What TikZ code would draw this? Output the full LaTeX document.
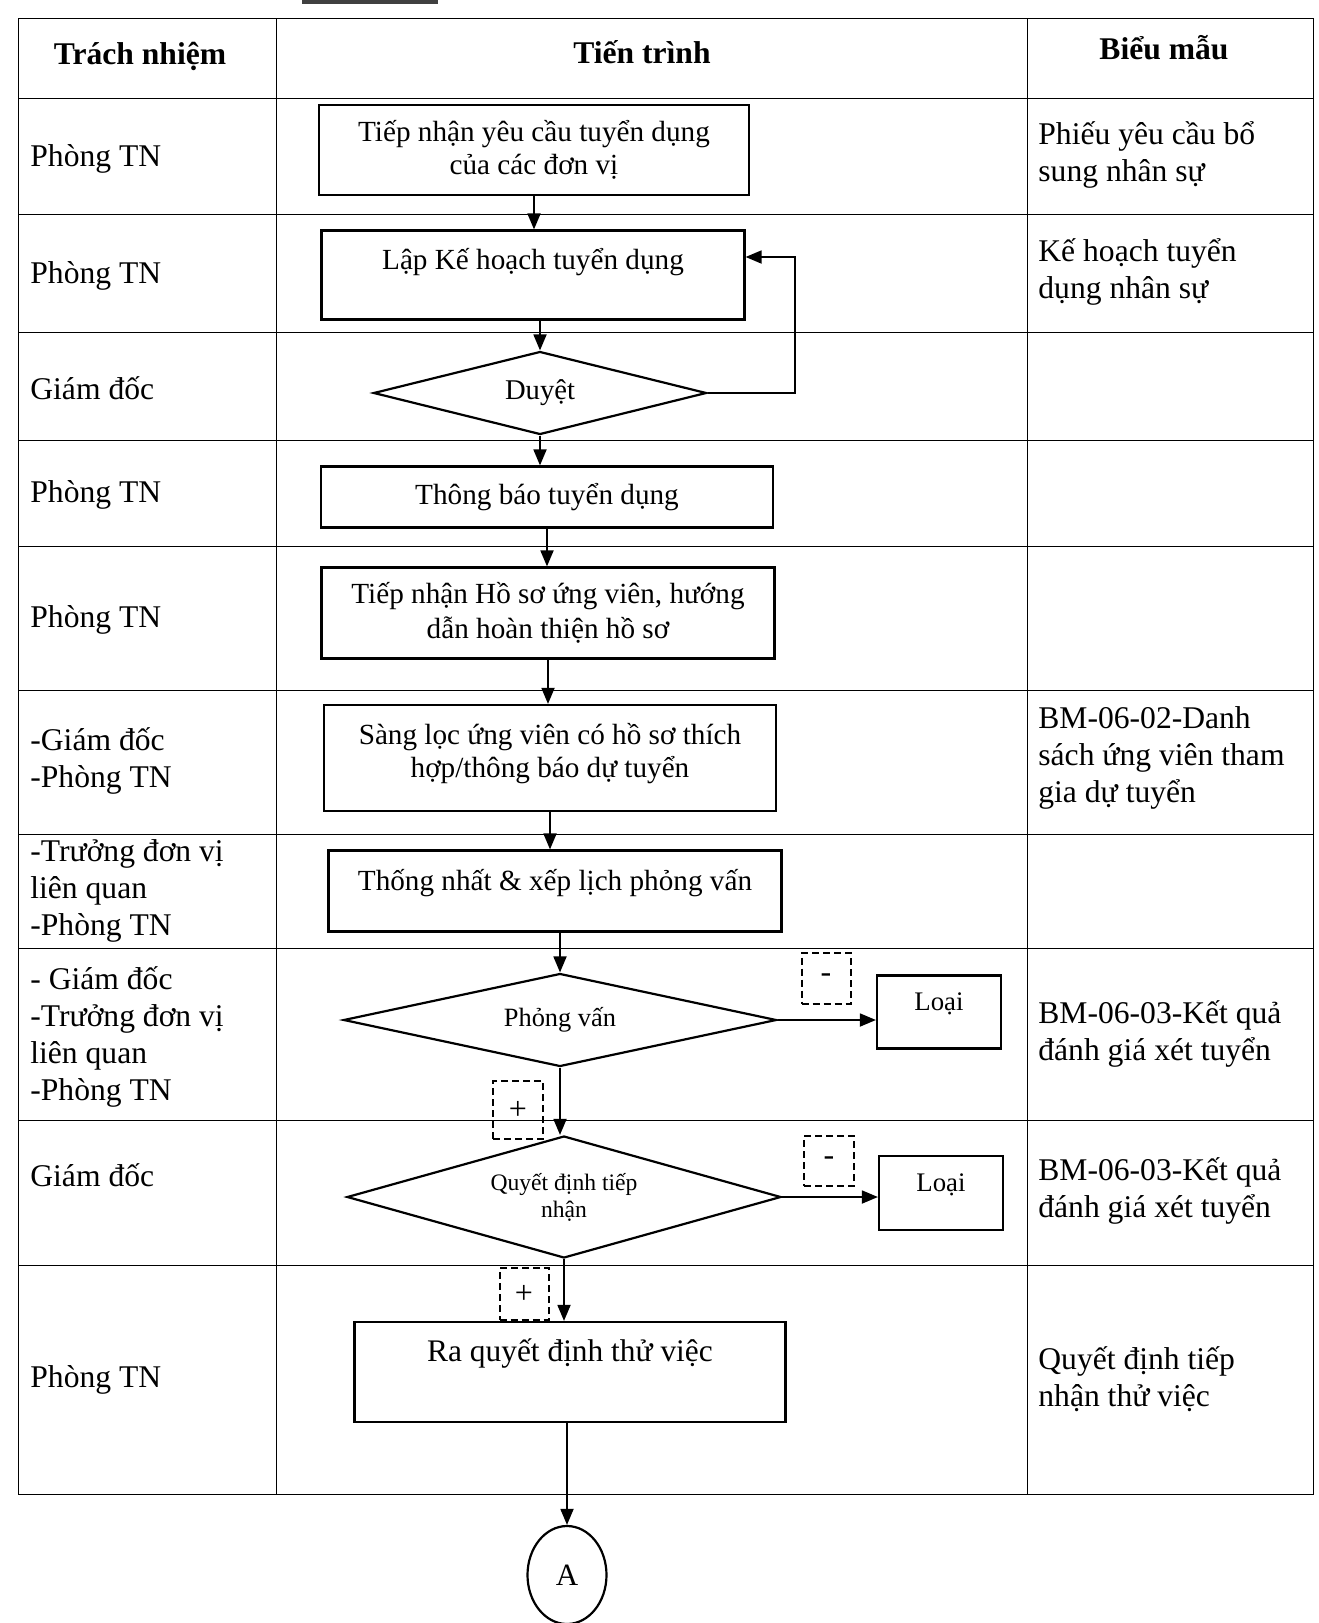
\documentclass[tikz,border=0pt]{standalone}
\usepackage{fontspec}
\setmainfont{Liberation Serif}
\usetikzlibrary{shapes.geometric,arrows.meta}
\tikzset{
  grid/.style={line width=0.5pt},
  procbox/.style={draw,line width=1.1pt,rectangle,align=center,inner sep=0pt,font=\fontsize{14.6}{16.5}\selectfont},
  decision/.style={draw,line width=1.1pt,diamond,aspect=4,inner sep=0pt,align=center},
  signbox/.style={draw,line width=1pt,dash pattern=on 3.5pt off 2pt,inner sep=0pt,font=\fontsize{16}{16}\selectfont},
  sidetext/.style={anchor=west,align=left,inner sep=0pt,font=\fontsize{15.8}{18.5}\selectfont},
  headtext/.style={inner sep=0pt,font=\fontsize{15.8}{18.5}\selectfont\bfseries},
  arr/.style={-{Triangle[length=8pt,width=6.5pt]},line width=0.9pt}
}
\begin{document}
\begin{tikzpicture}[x=0.5pt,y=-0.5pt]
      \useasboundingbox (0,0) rectangle (1318,1623);
      \fill[black!75] (302,0) rectangle (438,4);
      \draw[grid] (18,18) rectangle (1313,1494);
      \draw[grid] (276,18) -- (276,1494) (1027,18) -- (1027,1494);
      \foreach \y in {98,214,332,440,546,690,834,948,1120,1265}
        \draw[grid] (18,\y) -- (1313,\y);
      \node[headtext] (h1) at (140,56) {Trách nhiệm};
      \node[headtext] (h2) at (642,52) {Tiến trình};
      \node[headtext] (h3) at (1164,48) {Biểu mẫu};
      \node[sidetext] (r1) at (30,159) {Phòng TN};
      \node[sidetext] (r2) at (30,276) {Phòng TN};
      \node[sidetext] (r3) at (30,388) {Giám đốc};
      \node[sidetext] (r4) at (30,495) {Phòng TN};
      \node[sidetext] (r5) at (30,620) {Phòng TN};
      \node[sidetext] (r6) at (30,761) {-Giám đốc\\-Phòng TN};
      \node[sidetext] (r7) at (30,891) {-Trưởng đơn vị\\liên quan\\-Phòng TN};
      \node[sidetext] (r8) at (30,1037) {- Giám đốc\\-Trưởng đơn vị\\liên quan\\-Phòng TN};
      \node[sidetext] (r9) at (30,1175) {Giám đốc};
      \node[sidetext] (r10) at (30,1380) {Phòng TN};
      \node[sidetext] (f1) at (1038,155) {Phiếu yêu cầu bổ\\sung nhân sự};
      \node[sidetext] (f2) at (1038,272) {Kế hoạch tuyển\\dụng nhân sự};
      \node[sidetext] (f6) at (1038,758) {BM-06-02-Danh\\sách ứng viên tham\\gia dự tuyển};
      \node[sidetext] (f8) at (1038,1034) {BM-06-03-Kết quả\\đánh giá xét tuyển};
      \node[sidetext] (f9) at (1038,1191) {BM-06-03-Kết quả\\đánh giá xét tuyển};
      \node[sidetext] (f10) at (1038,1379) {Quyết định tiếp\\nhận thử việc};
      \node[procbox,minimum width=215pt,minimum height=45pt] (b1) at (534,150) {Tiếp nhận yêu cầu tuyển dụng\\của các đơn vị};
      \node[procbox,minimum width=211.5pt,minimum height=44.5pt] (b2) at (533,275) {};
      \node[font=\fontsize{14.6}{16.5}\selectfont] (t2) at (533,262) {Lập Kế hoạch tuyển dụng};
      \node[decision,minimum width=166.5pt,minimum height=41.5pt,font=\fontsize{14.3}{16}\selectfont] (d3) at (540,393) {Duyệt};
      \node[procbox,minimum width=226pt,minimum height=30.5pt] (b4) at (547,497) {Thông báo tuyển dụng};
      \node[procbox,minimum width=226.5pt,minimum height=45.5pt,font=\fontsize{14.6}{17.5}\selectfont] (b5) at (548,613) {Tiếp nhận Hồ sơ ứng viên, hướng\\dẫn hoàn thiện hồ sơ};
      \node[procbox,minimum width=226pt,minimum height=53pt] (b6) at (550,758) {};
      \node[align=center,font=\fontsize{14.6}{16.5}\selectfont] (t6) at (550,754) {Sàng lọc ứng viên có hồ sơ thích\\hợp/thông báo dự tuyển};
      \node[procbox,minimum width=226.5pt,minimum height=40.5pt] (b7) at (555,891) {};
      \node[font=\fontsize{14.6}{16.5}\selectfont] (t7) at (555,883) {Thống nhất \& xếp lịch phỏng vấn};
      \node[decision,minimum width=216.5pt,minimum height=46.5pt,font=\fontsize{13.2}{15}\selectfont] (d8) at (560,1020) {Phỏng vấn};
      \node[procbox,minimum width=62pt,minimum height=36.5pt] (l1) at (939,1012) {};
      \node[font=\fontsize{13.4}{15}\selectfont] (t8) at (939,1004) {Loại};
      \node[signbox,minimum width=24.5pt,minimum height=25.5pt] (m1) at (826,978) {-};
      \node[signbox,minimum width=25pt,minimum height=29pt] (p1) at (518,1110) {+};
      \node[decision,minimum width=217pt,minimum height=61pt,font=\fontsize{11.8}{13.5}\selectfont] (d9) at (564,1197) {Quyết định tiếp\\nhận};
      \node[procbox,minimum width=62pt,minimum height=37pt] (l2) at (941,1193) {};
      \node[font=\fontsize{13.4}{15}\selectfont] (t9) at (941,1185) {Loại};
      \node[signbox,minimum width=25pt,minimum height=25pt] (m2) at (829,1161) {-};
      \node[signbox,minimum width=24.5pt,minimum height=26pt] (p2) at (524,1294) {+};
      \node[procbox,minimum width=215.5pt,minimum height=50pt] (b10) at (570,1372) {};
      \node[font=\fontsize{15.7}{18}\selectfont] (t10) at (570,1354) {Ra quyết định thử việc};
      \node[draw,ellipse,line width=1.1pt,minimum width=39.5pt,minimum height=49pt,inner sep=0pt,font=\fontsize{15.5}{18}\selectfont] (a) at (567,1575) {A};
      \coordinate (back) at (795,257);
      \begin{scope}[arr]
        \draw (b1.south) -- (b1.south |- b2.north);
        \draw (d3.north |- b2.south) -- (d3.north);
        \draw (d3.east) -| (back) -- (back -| b2.east);
        \draw (d3.south) -- (d3.south |- b4.north);
        \draw (b4.south) -- (b4.south |- b5.north);
        \draw (b5.south) -- (b5.south |- b6.north);
        \draw (b6.south) -- (b6.south |- b7.north);
        \draw (d8.north |- b7.south) -- (d8.north);
        \draw (d8.east) -- (d8.east -| l1.west);
        \draw (d8.south) -- (d8.south |- d9.north);
        \draw (d9.east) -- (d9.east -| l2.west);
        \draw (d9.south) -- (d9.south |- b10.north);
        \draw (a.north |- b10.south) -- (a.north);
      \end{scope}
    \end{tikzpicture}
\end{document}
